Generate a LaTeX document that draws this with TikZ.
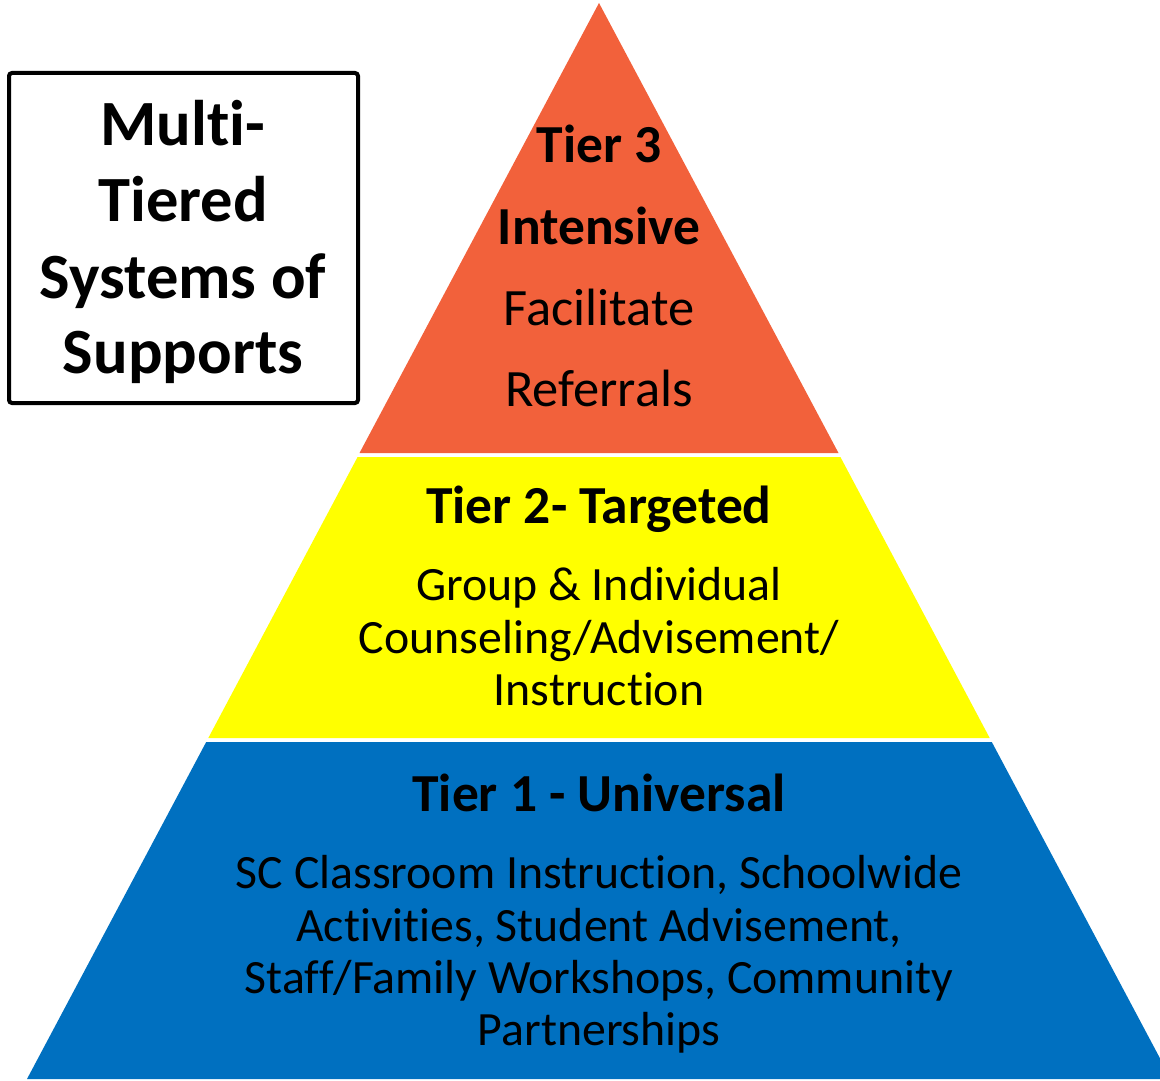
\documentclass[tikz,border=0pt]{standalone}
\usepackage{fontspec}
\setmainfont[Ligatures={NoCommon}]{Carlito}
\definecolor{tierthree}{HTML}{F2613B}
\definecolor{tiertwo}{HTML}{FFFF00}
\definecolor{tierone}{HTML}{0070C0}
\begin{document}
\begin{tikzpicture}[x=1pt,y=-1pt,
  ttl/.style={anchor=base,font=\fontsize{53.5}{60}\selectfont\bfseries,inner sep=0pt},
  bdy/.style={anchor=base,font=\fontsize{52.5}{60}\selectfont,inner sep=0pt},
  sml/.style={anchor=base,font=\fontsize{47.8}{52}\selectfont,inner sep=0pt},
  boxt/.style={anchor=base,font=\fontsize{64.5}{76}\selectfont\bfseries,inner sep=0pt}]
\useasboundingbox (0,0) rectangle (1160,1081);
\clip (0,0) rectangle (1160,1081);
% pyramid tiers
\fill[tierthree] (599,3) -- (838.5,453) -- (359.5,453) -- cycle;
\fill[tiertwo] (357.6,457) -- (840.4,457) -- (989.7,738) -- (208.3,738) -- cycle;
\fill[tierone] (206.2,742) -- (991.8,742) -- (1171,1079) -- (27,1079) -- cycle;
% title box
\draw[line width=4pt,rounded corners=3pt] (9,73) rectangle (358,403);
\node[boxt] (m1) at (183,146) {Multi-};
\node[boxt] (m2) at (183,221) {Tiered};
\node[boxt] (m3) at (183,298) {Systems of};
\node[boxt] (m4) at (183,373) {Supports};
% tier 3
\node[ttl] (t3a) at (599,162) {Tier 3};
\node[ttl] (t3b) at (599,244) {Intensive};
\node[bdy] (t3c) at (599,325) {Facilitate};
\node[bdy] (t3d) at (599,406) {Referrals};
% tier 2
\node[ttl] (t2a) at (599,523) {Tier 2- Targeted};
\node[sml] (t2b) at (599,600) {Group \& Individual};
\node[sml] (t2c) at (599,653) {Counseling/Advisement/};
\node[sml] (t2d) at (599,705) {Instruction};
% tier 1
\node[ttl] (t1a) at (599,811) {Tier 1 - Universal};
\node[sml] (t1b) at (599,888) {SC Classroom Instruction, Schoolwide};
\node[sml] (t1c) at (599,941) {Activities, Student Advisement,};
\node[sml] (t1d) at (599,993) {Staff/Family Workshops, Community};
\node[sml] (t1e) at (599,1045) {Partnerships};
\end{tikzpicture}
\end{document}
